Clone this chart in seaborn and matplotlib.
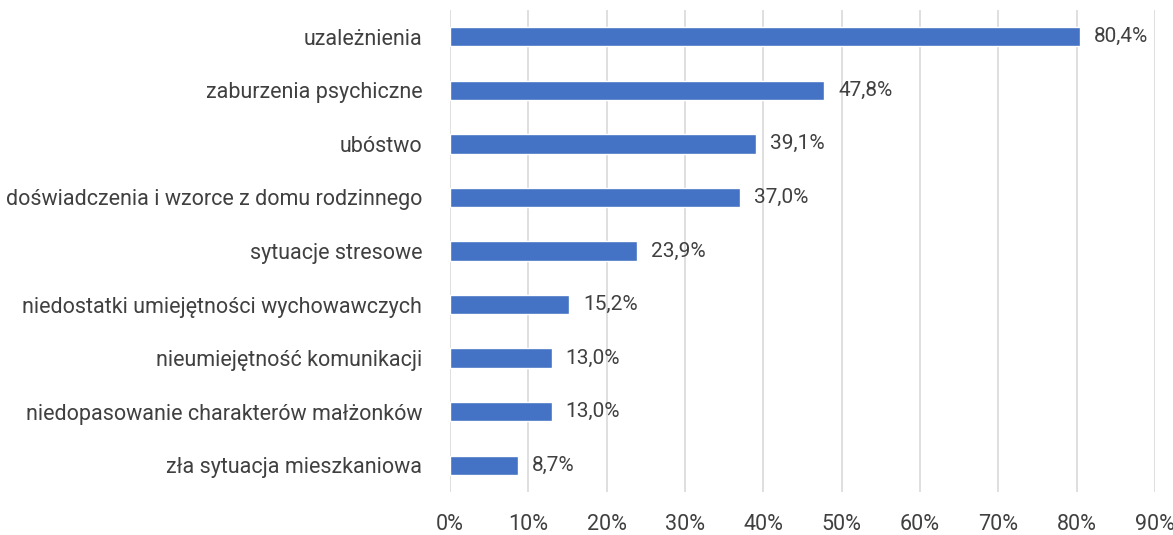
import matplotlib
matplotlib.use('Agg')
import matplotlib.pyplot as plt
from matplotlib.ticker import FuncFormatter
import seaborn as sns
import pandas as pd

categories = [
    'uzależnienia',
    'zaburzenia psychiczne',
    'ubóstwo',
    'doświadczenia i wzorce z domu rodzinnego',
    'sytuacje stresowe',
    'niedostatki umiejętności wychowawczych',
    'nieumiejętność komunikacji',
    'niedopasowanie charakterów małżonków',
    'zła sytuacja mieszkaniowa',
]
values = [80.4, 47.8, 39.1, 37.0, 23.9, 15.2, 13.0, 13.0, 8.7]

df = pd.DataFrame({'cat': categories, 'val': values})

sns.set_style('white')
plt.rcParams['font.family'] = ['Liberation Sans Narrow', 'Roboto', 'DejaVu Sans']
text_col = '#404040'

fig = plt.figure(figsize=(11.73, 5.35), dpi=100)
ax = fig.add_axes([450 / 1173, 1 - 492 / 535, 705 / 1173, 482 / 535])

sns.barplot(data=df, x='val', y='cat', color='#4472C4', saturation=1,
            width=0.36, orient='h', ax=ax)

ax.set_xlim(0, 90)
ax.set_xticks(range(0, 91, 10))
ax.xaxis.set_major_formatter(FuncFormatter(lambda v, p: '{:d}%'.format(int(v))))
ax.grid(axis='x', color='#D9D9D9', linewidth=1.2)
ax.set_axisbelow(True)
for s in ax.spines.values():
    s.set_visible(False)
ax.set_xlabel('')
ax.set_ylabel('')
ax.tick_params(axis='x', length=0, pad=16, labelsize=15.5, labelcolor=text_col)
ax.tick_params(axis='y', length=0, pad=20, labelsize=15.5, labelcolor=text_col)

for i, v in enumerate(values):
    ax.annotate('{:.1f}%'.format(v).replace('.', ','), (v, i),
                xytext=(10, 0), textcoords='offset points',
                va='center', ha='left', fontsize=15, color=text_col)

fig.savefig('out.png', dpi=100)
